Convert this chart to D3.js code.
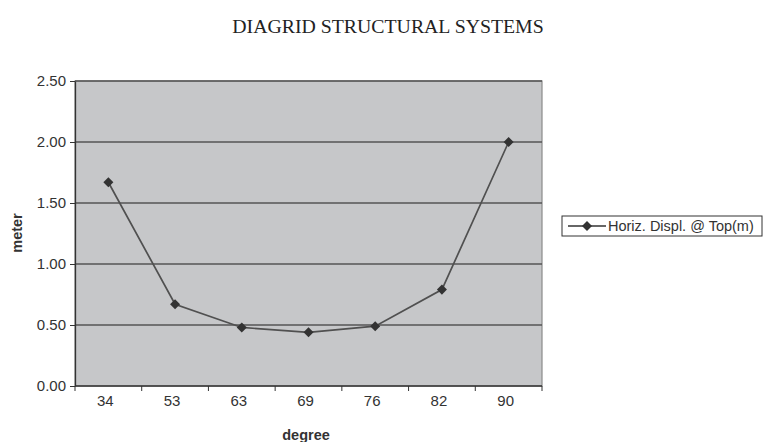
<!DOCTYPE html>
<html>
<head>
<meta charset="utf-8">
<script src="https://cdn.jsdelivr.net/npm/d3@7"></script>
<style>
  body { margin: 0; background: #fff; }
  svg { display: block; }
</style>
</head>
<body>
<div id="chart"></div>
<script>
var degrees = ["34", "53", "63", "69", "76", "82", "90"];
var displacement = [1.67, 0.67, 0.48, 0.44, 0.49, 0.79, 2.00];
var yTicks = [0, 0.5, 1.0, 1.5, 2.0, 2.5];
var seriesName = "Horiz. Displ. @ Top(m)";

var width = 768, height = 442;
var margin = { left: 75, top: 81, right: 226, bottom: 56 };  // plot area 75..542, 81..386
var sans = "Arial, 'Liberation Sans', sans-serif";

var svg = d3.select("#chart")
  .append("svg")
  .attr("width", width)
  .attr("height", height);

var x = d3.scaleBand()
  .domain(degrees)
  .range([margin.left, width - margin.right]);

var y = d3.scaleLinear()
  .domain([0, 2.5])
  .range([height - margin.bottom, margin.top]);

// plot background
svg.append("rect")
  .attr("x", margin.left)
  .attr("y", margin.top)
  .attr("width", x.range()[1] - margin.left)
  .attr("height", y(0) - margin.top)
  .style("fill", "#c6c7c9")
  .style("stroke", "#8a8a8a")
  .style("stroke-width", 1.2);

// gridlines
svg.append("g")
  .selectAll("line")
  .data(yTicks.slice(1))
  .enter()
  .append("line")
  .attr("x1", margin.left)
  .attr("x2", x.range()[1])
  .attr("y1", function (d) { return y(d); })
  .attr("y2", function (d) { return y(d); })
  .style("stroke", "#555")
  .style("stroke-width", 1.4);

// y axis
var yAxis = svg.append("g")
  .attr("transform", "translate(" + margin.left + ",0)")
  .call(d3.axisLeft(y).tickValues(yTicks).tickFormat(d3.format(".2f")).tickSize(5).tickSizeOuter(0));
yAxis.select(".domain").style("stroke", "#333").style("stroke-width", 1.3);
yAxis.selectAll(".tick line").style("stroke", "#333");
yAxis.selectAll("text")
  .style("font-family", sans)
  .style("font-size", "15px")
  .style("fill", "#333")
  .attr("x", -9);

// x axis - ticks sit on the band edges
var xAxis = svg.append("g")
  .attr("transform", "translate(0," + y(0) + ")");
xAxis.append("line")
  .attr("x1", margin.left)
  .attr("x2", x.range()[1])
  .style("stroke", "#333")
  .style("stroke-width", 1.3);
xAxis.selectAll(".edge")
  .data(degrees.concat(["end"]))
  .enter()
  .append("line")
  .attr("class", "edge")
  .attr("x1", function (d, i) { return margin.left + i * x.bandwidth(); })
  .attr("x2", function (d, i) { return margin.left + i * x.bandwidth(); })
  .attr("y1", 0)
  .attr("y2", 5)
  .style("stroke", "#333");
xAxis.selectAll(".lbl")
  .data(degrees)
  .enter()
  .append("text")
  .attr("class", "lbl")
  .attr("x", function (d) { return x(d) + x.bandwidth() / 2 - 3; })
  .attr("y", 20)
  .attr("text-anchor", "middle")
  .style("font-family", sans)
  .style("font-size", "15px")
  .style("fill", "#333")
  .text(function (d) { return d; });

// series line
var line = d3.line()
  .x(function (d, i) { return x(degrees[i]) + x.bandwidth() / 2; })
  .y(function (d) { return y(d); });

svg.append("path")
  .datum(displacement)
  .attr("d", line)
  .style("fill", "none")
  .style("stroke", "#505050")
  .style("stroke-width", 1.7);

var diamond = d3.symbol().type(d3.symbolDiamond2).size(64);

svg.append("g")
  .selectAll("path")
  .data(displacement)
  .enter()
  .append("path")
  .attr("d", diamond)
  .attr("transform", function (d, i) {
    return "translate(" + (x(degrees[i]) + x.bandwidth() / 2) + "," + y(d) + ")";
  })
  .style("fill", "#333");

// title & axis titles
svg.append("text")
  .attr("x", 388)
  .attr("y", 33)
  .attr("text-anchor", "middle")
  .style("font-family", "'Times New Roman', 'Liberation Serif', serif")
  .style("font-size", "19.8px")
  .style("fill", "#222")
  .text("DIAGRID STRUCTURAL SYSTEMS");

svg.append("text")
  .attr("transform", "translate(22,233) rotate(-90)")
  .attr("text-anchor", "middle")
  .style("font-family", sans)
  .style("font-size", "14.5px")
  .style("font-weight", "bold")
  .style("fill", "#333")
  .text("meter");

svg.append("text")
  .attr("x", 306)
  .attr("y", 440)
  .attr("text-anchor", "middle")
  .style("font-family", sans)
  .style("font-size", "14.5px")
  .style("font-weight", "bold")
  .style("fill", "#333")
  .text("degree");

// legend
var legend = svg.append("g").attr("transform", "translate(562,216)");
legend.append("rect")
  .attr("width", 200)
  .attr("height", 20)
  .style("fill", "#fff")
  .style("stroke", "#333")
  .style("stroke-width", 1);
legend.append("line")
  .attr("x1", 6).attr("x2", 44)
  .attr("y1", 10).attr("y2", 10)
  .style("stroke", "#333")
  .style("stroke-width", 1.3);
legend.append("path")
  .attr("d", diamond)
  .attr("transform", "translate(25,10)")
  .style("fill", "#333");
legend.append("text")
  .attr("x", 46)
  .attr("y", 15)
  .style("font-family", sans)
  .style("font-size", "14.5px")
  .style("fill", "#333")
  .text(seriesName);
</script>
</body>
</html>
